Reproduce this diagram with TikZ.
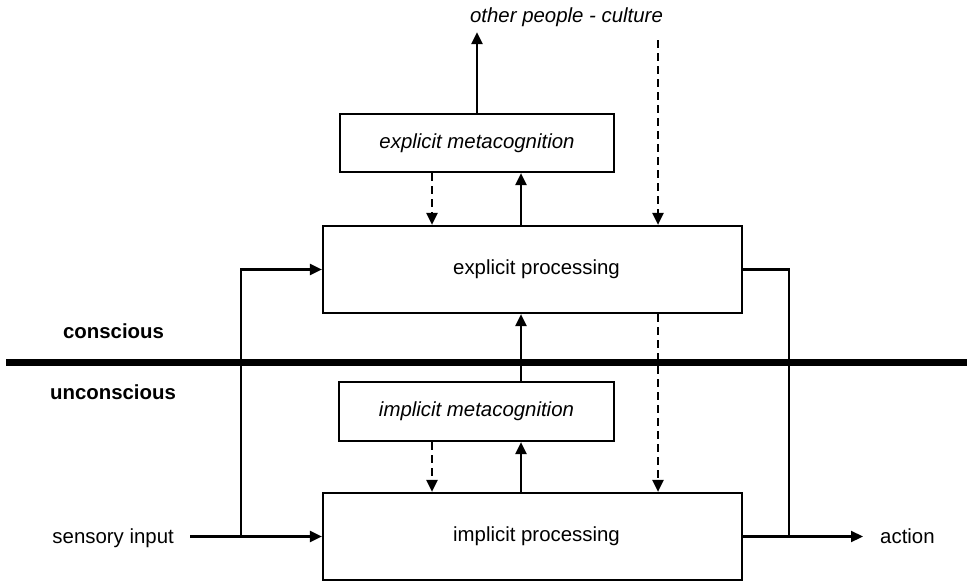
\documentclass[tikz,border=0pt]{standalone}
\usepackage{fontspec}
\setmainfont{Liberation Sans}
\usetikzlibrary{arrows.meta}
\begin{document}
\begin{tikzpicture}[x=1pt,y=-1pt,
  font=\fontsize{20.4}{24}\selectfont,
  box/.style={draw,line width=2.2pt,inner sep=0pt,align=center},
  conn/.style={line width=2.2pt,-{Triangle[length=12pt,width=11pt]}},
  dconn/.style={conn,dash pattern=on 8pt off 5pt},
  plain/.style={line width=2.2pt},
  lbl/.style={inner sep=0pt}]
\useasboundingbox (0,0) rectangle (967,583);
% boxes
\node[box,minimum width=274pt,minimum height=58pt] (expmeta) at (477,143) {\itshape explicit metacognition};
\node[box,minimum width=419pt,minimum height=87pt] (exproc) at (532.5,269.5) {\hspace*{8pt}explicit processing};
\node[box,minimum width=275pt,minimum height=59pt] (impmeta) at (476.5,411.5) {\itshape implicit metacognition};
\node[box,minimum width=419pt,minimum height=87pt] (improc) at (532.5,536.5) {\hspace*{8pt}implicit processing};
% labels
\node[lbl,anchor=base] (other) at (566.5,23) {\itshape other people - culture};
\node[lbl,anchor=base] (conscious) at (113.5,338) {\bfseries conscious};
\node[lbl,anchor=base] (unconscious) at (113,399) {\bfseries unconscious};
\node[lbl,anchor=base east] (sensory) at (174,543) {sensory input};
\node[lbl,anchor=base west] (action) at (880,543) {action};
% divider
\coordinate (divL) at (6,362);
\coordinate (divR) at (967,362);
\draw[line width=7pt] (divL) -- (divR);
% columns
\coordinate (xa) at (432,0);
\coordinate (xb) at (521,0);
\coordinate (xc) at (658,0);
\coordinate (bl) at (241,0);
\coordinate (br) at (789,0);
% top
\draw[conn,shorten >=4.7pt] (expmeta.north) -- (other.south -| expmeta.north);
\draw[dconn,shorten <=12.7pt] (other.south -| xc) -- (exproc.north -| xc);
% explicit pair
\draw[dconn] (expmeta.south -| xa) -- (exproc.north -| xa);
\draw[conn] (exproc.north -| xb) -- (expmeta.south -| xb);
% middle
\draw[conn] (impmeta.north -| xb) -- (exproc.south -| xb);
\draw[dconn] (exproc.south -| xc) -- (improc.north -| xc);
% implicit pair
\draw[dconn] (impmeta.south -| xa) -- (improc.north -| xa);
\draw[conn] (improc.north -| xb) -- (impmeta.south -| xb);
% input
\draw[conn,shorten <=16pt] (sensory.east |- improc.west) -- (improc.west);
\draw[conn] (bl |- improc.west) |- (exproc.west);
% output
\draw[plain] (exproc.east) -| (br |- improc.east);
\draw[conn,shorten >=17pt] (improc.east) -- (improc.east -| action.west);
\end{tikzpicture}
\end{document}
